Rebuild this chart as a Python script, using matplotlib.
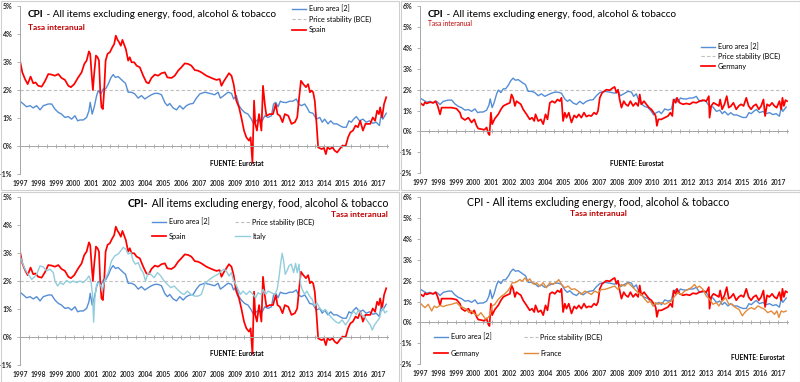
import numpy as np
import matplotlib
matplotlib.use('Agg')
import matplotlib.pyplot as plt
from matplotlib.patches import Rectangle

plt.rcParams['font.family'] = ['Lato', 'DejaVu Sans']

# ---- datos (tasa interanual, %) ----
euro_t = [1997.00, 1997.19, 1997.37, 1997.56, 1997.74, 1997.93, 1998.12, 1998.30, 1998.58, 1998.77,
          1998.95, 1999.14, 1999.32, 1999.51, 1999.70, 1999.88, 2000.07, 2000.22, 2000.35, 2000.53,
          2000.72, 2000.85, 2000.92, 2001.03, 2001.14, 2001.28, 2001.37, 2001.52, 2001.65, 2001.78,
          2001.93, 2002.07, 2002.20, 2002.33, 2002.48, 2002.63, 2002.76, 2002.89, 2003.04, 2003.23,
          2003.41, 2003.60, 2003.78, 2003.97, 2004.16, 2004.34, 2004.53, 2004.71, 2004.90, 2005.09,
          2005.23, 2005.36, 2005.55, 2005.74, 2005.92, 2006.11, 2006.29, 2006.48, 2006.67, 2006.85,
          2007.04, 2007.32, 2007.59, 2007.87, 2008.06, 2008.19, 2008.38, 2008.62, 2008.81, 2008.93,
          2009.08, 2009.23, 2009.36, 2009.54, 2009.73, 2009.92, 2010.05, 2010.20, 2010.35, 2010.48,
          2010.67, 2010.85, 2011.04, 2011.16, 2011.28, 2011.41, 2011.54, 2011.69, 2011.87, 2012.06,
          2012.24, 2012.43, 2012.56, 2012.71, 2012.90, 2013.02, 2013.17, 2013.36, 2013.55, 2013.74,
          2013.88, 2014.01, 2014.20, 2014.35, 2014.51, 2014.70, 2014.85, 2015.03, 2015.22, 2015.37,
          2015.50, 2015.63, 2015.78, 2015.96, 2016.15, 2016.33, 2016.52, 2016.70, 2016.89, 2017.07,
          2017.17, 2017.26, 2017.45]
euro_v = [1.60, 1.50, 1.40, 1.44, 1.36, 1.44, 1.29, 1.44, 1.50, 1.50,
          1.32, 1.20, 1.14, 1.02, 1.05, 0.96, 1.08, 0.90, 0.93, 0.93,
          1.02, 1.26, 1.56, 1.14, 1.38, 1.80, 1.98, 1.86, 2.04, 2.04,
          2.21, 2.43, 2.55, 2.45, 2.48, 2.39, 2.31, 2.24, 1.92, 1.92,
          1.86, 1.71, 1.80, 1.68, 1.76, 1.83, 1.88, 1.88, 1.83, 1.55,
          1.44, 1.52, 1.36, 1.29, 1.44, 1.32, 1.44, 1.50, 1.52, 1.71,
          1.86, 1.92, 1.88, 1.83, 1.92, 1.71, 1.80, 1.92, 1.88, 1.68,
          1.80, 1.44, 1.32, 1.20, 1.14, 0.96, 0.79, 0.90, 0.96, 0.85,
          1.08, 1.02, 1.08, 1.50, 1.56, 1.40, 1.60, 1.56, 1.55, 1.60,
          1.60, 1.68, 1.50, 1.44, 1.50, 1.38, 1.20, 1.17, 0.96, 1.02,
          0.85, 0.96, 0.79, 0.90, 0.79, 0.79, 0.73, 0.67, 0.67, 0.90,
          0.85, 0.96, 1.05, 0.90, 0.96, 0.85, 0.90, 0.81, 0.85, 0.73,
          1.14, 0.96, 1.17]

spain_t = [1997.00, 1997.13, 1997.28, 1997.43, 1997.59, 1997.74, 1997.87, 1998.02, 1998.21, 1998.39,
           1998.58, 1998.77, 1998.95, 1999.14, 1999.32, 1999.51, 1999.70, 1999.84, 2000.03, 2000.25,
           2000.44, 2000.59, 2000.72, 2000.85, 2000.92, 2001.00, 2001.07, 2001.14, 2001.24, 2001.33,
           2001.41, 2001.48, 2001.55, 2001.63, 2001.70, 2001.78, 2001.89, 2002.02, 2002.15, 2002.26,
           2002.35, 2002.45, 2002.54, 2002.63, 2002.72, 2002.82, 2002.91, 2003.04, 2003.13, 2003.23,
           2003.38, 2003.51, 2003.69, 2003.88, 2004.06, 2004.19, 2004.34, 2004.53, 2004.71, 2004.90,
           2005.09, 2005.23, 2005.46, 2005.64, 2005.83, 2006.01, 2006.20, 2006.39, 2006.57, 2006.76,
           2006.94, 2007.13, 2007.41, 2007.69, 2007.97, 2008.15, 2008.25, 2008.38, 2008.52, 2008.67,
           2008.81, 2008.93, 2009.08, 2009.23, 2009.36, 2009.51, 2009.64, 2009.79, 2009.88, 2009.98,
           2010.07, 2010.14, 2010.23, 2010.35, 2010.48, 2010.57, 2010.67, 2010.76, 2010.95, 2011.13,
           2011.28, 2011.38, 2011.51, 2011.66, 2011.79, 2011.98, 2012.16, 2012.35, 2012.48, 2012.59,
           2012.69, 2012.82, 2012.97, 2013.09, 2013.19, 2013.28, 2013.37, 2013.46, 2013.56, 2013.65,
           2013.84, 2013.97, 2014.08, 2014.17, 2014.30, 2014.45, 2014.58, 2014.71, 2014.85, 2015.00,
           2015.19, 2015.32, 2015.45, 2015.59, 2015.74, 2015.87, 2016.00, 2016.15, 2016.29, 2016.42,
           2016.56, 2016.70, 2016.83, 2016.94, 2017.04, 2017.11, 2017.22, 2017.33, 2017.45]
spain_v = [3.05, 2.63, 2.39, 2.21, 2.48, 2.24, 2.27, 2.15, 2.12, 2.31,
           2.57, 2.55, 2.51, 2.57, 2.43, 2.36, 2.15, 2.10, 2.21, 2.45,
           2.63, 2.93, 3.05, 3.38, 3.29, 2.57, 2.00, 2.57, 3.23, 3.17,
           3.05, 1.98, 1.38, 1.32, 1.98, 3.05, 3.29, 3.35, 3.52, 3.64,
           3.94, 3.79, 3.70, 3.58, 3.79, 3.62, 3.46, 3.05, 3.17, 2.99,
           2.99, 2.87, 2.81, 2.51, 2.27, 2.24, 2.43, 2.55, 2.51, 2.60,
           2.63, 2.45, 2.43, 2.51, 2.69, 2.81, 2.95, 2.93, 2.87, 2.71,
           2.69, 2.63, 2.51, 2.43, 2.36, 2.39, 2.15, 2.31, 2.45, 2.60,
           2.51, 2.21, 1.62, 1.38, 1.02, 0.55, 0.31, 0.19, 0.31, -0.60,
           1.62, 0.79, 0.55, 1.14, 0.55, 2.15, 1.50, 1.08, 1.14, 1.14,
           1.50, 1.14, 1.08, 0.85, 1.14, 1.08, 0.79, 0.85, 1.02, 1.74,
           2.33, 2.21, 2.10, 2.21, 1.92, 1.98, 1.92, 1.62, 0.79, -0.05,
           -0.11, -0.07, -0.29, -0.05, -0.11, -0.05, -0.17, -0.23, -0.11, 0.01,
           0.01, 0.31, 0.49, 0.55, 0.73, 0.67, 0.90, 0.55, 0.79, 0.79,
           0.79, 1.02, 0.90, 1.26, 1.14, 1.38, 1.02, 1.50, 1.74]

germany_t = [1997.00, 1997.19, 1997.28, 1997.37, 1997.56, 1997.74, 1997.87, 1997.99, 1998.12, 1998.21,
             1998.49, 1998.77, 1999.04, 1999.23, 1999.32, 1999.51, 1999.70, 1999.88, 2000.03, 2000.16,
             2000.25, 2000.44, 2000.59, 2000.72, 2000.81, 2000.88, 2000.96, 2001.03, 2001.18, 2001.37,
             2001.52, 2001.65, 2001.83, 2002.02, 2002.11, 2002.20, 2002.30, 2002.39, 2002.52, 2002.63,
             2002.76, 2002.95, 2003.13, 2003.26, 2003.38, 2003.45, 2003.60, 2003.75, 2003.88, 2004.01,
             2004.12, 2004.25, 2004.38, 2004.53, 2004.68, 2004.81, 2004.90, 2004.99, 2005.09, 2005.18,
             2005.31, 2005.46, 2005.61, 2005.74, 2005.87, 2006.01, 2006.16, 2006.29, 2006.42, 2006.57,
             2006.72, 2006.85, 2006.94, 2007.04, 2007.17, 2007.41, 2007.59, 2007.78, 2007.87, 2007.97,
             2008.06, 2008.15, 2008.25, 2008.38, 2008.49, 2008.62, 2008.75, 2008.90, 2009.05, 2009.18,
             2009.27, 2009.36, 2009.51, 2009.64, 2009.79, 2009.92, 2010.05, 2010.16, 2010.23, 2010.31,
             2010.48, 2010.67, 2010.85, 2010.98, 2011.09, 2011.16, 2011.28, 2011.35, 2011.50, 2011.69,
             2011.87, 2012.06, 2012.24, 2012.43, 2012.61, 2012.80, 2012.99, 2013.13, 2013.17, 2013.26,
             2013.39, 2013.54, 2013.69, 2013.76, 2013.87, 2014.00, 2014.13, 2014.24, 2014.37, 2014.50,
             2014.66, 2014.80, 2014.93, 2015.07, 2015.22, 2015.35, 2015.49, 2015.62, 2015.77, 2015.92,
             2016.05, 2016.18, 2016.27, 2016.38, 2016.51, 2016.66, 2016.79, 2016.92, 2017.07, 2017.17,
             2017.24, 2017.32, 2017.41, 2017.50]
germany_v = [1.37, 1.25, 1.40, 1.34, 1.40, 1.37, 1.45, 1.22, 0.82, 1.14,
             1.14, 1.14, 1.09, 0.90, 0.66, 0.55, 0.66, 0.43, 0.58, 0.27,
             0.14, 0.11, 0.08, 0.19, -0.08, -0.17, 0.90, 0.35, 0.62, 0.82,
             1.06, 1.22, 1.30, 1.37, 1.77, 1.61, 1.22, 1.45, 1.37, 1.30,
             1.06, 0.82, 0.58, 0.66, 0.50, 0.82, 0.50, 0.58, 0.35, 0.82,
             0.58, 1.37, 1.45, 1.37, 1.53, 1.45, 1.61, 0.50, 0.90, 0.66,
             0.90, 0.43, 0.77, 0.66, 0.82, 0.66, 0.90, 0.71, 0.77, 0.74,
             0.90, 0.82, 0.98, 1.61, 1.85, 2.00, 1.97, 2.09, 2.13, 1.85,
             2.00, 1.53, 1.14, 1.45, 1.30, 1.22, 1.45, 1.22, 1.37, 1.22,
             1.77, 1.30, 1.45, 1.30, 1.14, 1.06, 0.90, 0.74, 0.27, 0.58,
             0.58, 0.66, 0.74, 0.90, 0.74, 1.53, 1.37, 1.61, 1.37, 1.30,
             1.34, 1.30, 1.40, 1.37, 1.45, 1.50, 1.45, 1.69, 0.66, 1.22,
             1.37, 1.30, 1.22, 1.53, 1.06, 1.30, 1.69, 1.14, 1.22, 1.37,
             1.06, 1.22, 1.30, 1.22, 1.61, 1.22, 1.06, 1.22, 1.30, 1.06,
             1.22, 1.53, 0.74, 1.30, 1.22, 1.37, 1.22, 1.14, 1.45, 1.06,
             1.61, 1.22, 1.50, 1.45]

italy_t = [1997.00, 1997.13, 1997.28, 1997.46, 1997.65, 1997.80, 1997.93, 1998.12, 1998.30, 1998.49,
           1998.67, 1998.86, 1998.95, 1999.10, 1999.23, 1999.42, 1999.60, 1999.79, 1999.97, 2000.16,
           2000.35, 2000.53, 2000.72, 2000.85, 2000.96, 2001.05, 2001.11, 2001.18, 2001.28, 2001.41,
           2001.52, 2001.59, 2001.74, 2001.93, 2002.11, 2002.30, 2002.48, 2002.63, 2002.76, 2002.91,
           2003.04, 2003.19, 2003.32, 2003.45, 2003.60, 2003.75, 2003.88, 2004.01, 2004.16, 2004.30,
           2004.49, 2004.68, 2004.86, 2005.05, 2005.23, 2005.42, 2005.61, 2005.79, 2005.98, 2006.16,
           2006.35, 2006.54, 2006.76, 2006.94, 2007.13, 2007.32, 2007.59, 2007.87, 2008.06, 2008.25,
           2008.38, 2008.52, 2008.67, 2008.81, 2008.90, 2009.05, 2009.18, 2009.31, 2009.45, 2009.64,
           2009.83, 2010.01, 2010.16, 2010.29, 2010.48, 2010.57, 2010.72, 2010.85, 2011.04, 2011.23,
           2011.36, 2011.46, 2011.55, 2011.64, 2011.72, 2011.81, 2011.91, 2012.02, 2012.15, 2012.28,
           2012.39, 2012.48, 2012.58, 2012.67, 2012.76, 2012.89, 2013.02, 2013.17, 2013.32, 2013.45,
           2013.58, 2013.73, 2013.91, 2014.06, 2014.25, 2014.43, 2014.62, 2014.80, 2014.99, 2015.18,
           2015.37, 2015.50, 2015.63, 2015.78, 2015.92, 2016.05, 2016.24, 2016.42, 2016.56, 2016.67,
           2016.80, 2016.93, 2017.07, 2017.17, 2017.26, 2017.37, 2017.48]
italy_v = [2.90, 2.66, 2.42, 2.24, 2.06, 2.14, 2.24, 2.54, 2.50, 2.36,
           2.42, 2.30, 2.00, 1.82, 1.94, 1.88, 2.02, 1.94, 2.00, 1.94,
           2.00, 1.94, 2.06, 2.18, 2.00, 1.52, 0.53, 1.40, 1.88, 1.94,
           1.82, 1.64, 2.06, 2.30, 2.72, 2.90, 2.96, 3.08, 3.20, 3.14,
           2.96, 3.02, 2.72, 2.60, 2.66, 2.42, 2.30, 2.00, 2.30, 2.24,
           2.12, 2.30, 2.18, 2.00, 1.88, 1.76, 1.82, 1.70, 1.58, 1.52,
           1.64, 1.52, 1.46, 1.46, 1.52, 1.90, 2.06, 2.18, 2.24, 2.36,
           2.42, 2.36, 2.18, 2.30, 2.06, 1.88, 1.70, 1.52, 1.64, 1.52,
           1.64, 1.52, 1.40, 1.58, 1.52, 1.70, 1.52, 1.64, 1.58, 1.52,
           1.70, 2.12, 2.60, 2.99, 2.72, 2.24, 2.36, 2.54, 2.60, 2.30,
           2.63, 2.30, 2.60, 1.88, 1.70, 1.52, 1.64, 1.46, 1.34, 1.10,
           1.22, 1.04, 0.92, 0.98, 0.80, 0.67, 0.55, 0.49, 0.61, 0.43,
           0.61, 0.80, 0.92, 0.80, 0.98, 0.80, 0.73, 0.55, 0.43, 0.25,
           0.43, 0.55, 0.67, 0.92, 1.04, 0.86, 0.92]

france_t = [1997.00, 1997.13, 1997.28, 1997.46, 1997.65, 1997.80, 1997.93, 1998.12, 1998.30, 1998.49,
            1998.77, 1999.04, 1999.23, 1999.42, 1999.60, 1999.73, 1999.88, 2000.07, 2000.25, 2000.40,
            2000.53, 2000.66, 2000.81, 2000.92, 2001.03, 2001.18, 2001.37, 2001.55, 2001.70, 2001.89,
            2002.02, 2002.15, 2002.30, 2002.45, 2002.58, 2002.71, 2002.86, 2003.00, 2003.13, 2003.26,
            2003.38, 2003.51, 2003.69, 2003.88, 2004.06, 2004.25, 2004.43, 2004.62, 2004.75, 2004.90,
            2005.09, 2005.27, 2005.46, 2005.64, 2005.83, 2006.01, 2006.20, 2006.39, 2006.57, 2006.76,
            2006.94, 2007.13, 2007.32, 2007.59, 2007.87, 2008.06, 2008.25, 2008.43, 2008.62, 2008.81,
            2009.00, 2009.18, 2009.36, 2009.55, 2009.73, 2009.86, 2010.01, 2010.16, 2010.29, 2010.48,
            2010.67, 2010.85, 2011.04, 2011.23, 2011.41, 2011.59, 2011.78, 2011.96, 2012.15, 2012.33,
            2012.46, 2012.61, 2012.80, 2012.99, 2013.17, 2013.36, 2013.55, 2013.69, 2013.88, 2014.07,
            2014.25, 2014.44, 2014.62, 2014.81, 2015.00, 2015.13, 2015.32, 2015.50, 2015.68, 2015.87,
            2016.05, 2016.24, 2016.42, 2016.61, 2016.80, 2016.93, 2017.04, 2017.17, 2017.30, 2017.45]
france_v = [0.95, 0.82, 0.71, 0.87, 0.55, 0.79, 0.71, 0.82, 0.76, 0.82,
            0.87, 0.95, 0.79, 0.71, 0.63, 0.47, 0.55, 0.39, 0.32, 0.47,
            0.32, 0.16, 0.24, 0.39, 0.79, 0.87, 1.11, 1.26, 1.34, 1.50,
            1.66, 1.90, 1.90, 1.97, 2.05, 1.97, 2.13, 1.97, 2.09, 1.90,
            1.82, 1.90, 1.74, 1.90, 1.66, 1.90, 1.82, 1.93, 2.05, 1.82,
            1.66, 1.74, 1.58, 1.61, 1.50, 1.34, 1.50, 1.42, 1.34, 1.50,
            1.42, 1.58, 1.58, 1.66, 1.74, 1.58, 1.82, 1.74, 1.90, 1.74,
            1.58, 1.42, 1.34, 1.11, 0.95, 1.03, 0.79, 0.95, 0.87, 0.95,
            0.87, 0.95, 1.03, 1.26, 1.42, 1.34, 1.50, 1.58, 1.66, 1.82,
            1.66, 1.74, 1.58, 1.26, 1.11, 0.87, 0.95, 0.79, 1.03, 1.18,
            0.87, 0.87, 0.71, 0.63, 0.32, 0.47, 0.63, 0.71, 0.63, 0.79,
            0.71, 0.63, 0.47, 0.55, 0.39, 0.55, 0.24, 0.55, 0.50, 0.55]

years = list(range(1997, 2018))

# colores
C_EURO = '#558ED5'
C_RED = '#FF0000'
C_ITA = '#92CDDC'
C_FRA = '#E38B3B'
C_BCE = '#BFBFBF'
C_TASA = '#C00000'
C_AXIS = '#A6A6A6'

W, H = 800, 382
fig = plt.figure(figsize=(8, 3.82), dpi=100)
fig.patch.set_facecolor('white')


def fx(x):
    return x / W


def fy(y):
    return 1 - y / H


def make_axes(x0, y0, x1, y1, ymin, ymax):
    ax = fig.add_axes([fx(x0), fy(y1), (x1 - x0) / W, (y1 - y0) / H])
    ax.set_xlim(1997, 2017.55)
    ax.set_ylim(ymin, ymax)
    for s in ['top', 'right']:
        ax.spines[s].set_visible(False)
    ax.spines['bottom'].set_position(('data', 0))
    ax.spines['bottom'].set_color(C_AXIS)
    ax.spines['left'].set_color(C_AXIS)
    ax.spines['bottom'].set_linewidth(0.7)
    ax.spines['left'].set_linewidth(0.7)
    ax.set_xticks(np.arange(1997, 2017.6, 0.5))
    ax.tick_params(axis='x', direction='inout', length=3, width=0.6, color=C_AXIS,
                   labelbottom=False)
    ax.set_yticks(range(ymin, ymax + 1))
    ax.set_yticklabels([f'{v}%' for v in range(ymin, ymax + 1)], fontsize=5,
                       fontweight='bold', color='#262626')
    ax.tick_params(axis='y', length=2, width=0.6, color=C_AXIS, pad=3.5)
    sec = ax.secondary_xaxis(0)
    sec.set_xticks(years)
    sec.set_xticklabels([str(y) for y in years], fontsize=4.8, fontweight='bold',
                        color='#262626')
    sec.tick_params(length=0, pad=4)
    sec.spines['bottom'].set_visible(False)
    ax.axhline(2, color=C_BCE, lw=0.8, ls=(0, (3, 2)), label='Price stability (BCE)', zorder=1)
    return ax


def panel_frame(x0, y0, x1, y1):
    fig.add_artist(Rectangle((fx(x0), fy(y1)), (x1 - x0) / W, (y1 - y0) / H,
                             transform=fig.transFigure, fill=False,
                             edgecolor='#D0D0D0', lw=0.8))


for (a, b, c, d) in [(0.5, 0.5, 399, 190), (401, 0.5, 799.5, 190),
                     (0.5, 192, 399, 381.5), (401, 192, 799.5, 381.5)]:
    panel_frame(a, b, c, d)

title = 'All items excluding energy, food, alcohol & tobacco'
LW_RED = 1.25
LW_BLUE = 1.0

# ---- panel 1: Euro area vs Spain ----
ax1 = make_axes(20, 6, 388, 174, -1, 5)
l_eu, = ax1.plot(euro_t, euro_v, color=C_EURO, lw=LW_BLUE, label='Euro area [2]')
l_es, = ax1.plot(spain_t, spain_v, color=C_RED, lw=LW_RED, label='Spain')
h_bce = ax1.get_lines()[0]
t = fig.text(fx(28), fy(19), 'CPI', fontsize=7.2, fontweight='bold', va='bottom')
ax1.annotate(' - ' + title, xy=(1, 0), xycoords=t, va='bottom', ha='left', fontsize=7.2)
fig.text(fx(28), fy(27), 'Tasa interanual', fontsize=6, fontweight='bold', color=C_TASA,
         va='center')
ax1.legend([l_eu, h_bce, l_es], ['Euro area [2]', 'Price stability (BCE)', 'Spain'],
           loc='upper left', bbox_to_anchor=(fx(292), fy(5)), bbox_transform=fig.transFigure,
           frameon=False, fontsize=5.2, handlelength=2.0, handletextpad=0.3,
           labelspacing=0.45, borderpad=0, borderaxespad=0)
fig.text(fx(237), fy(163), 'FUENTE: Eurostat', fontsize=4.8, fontweight='bold',
         ha='center', va='center')

# ---- panel 2: Euro area vs Germany ----
ax2 = make_axes(420, 6, 788, 173.3, -2, 6)
l_eu2, = ax2.plot(euro_t, euro_v, color=C_EURO, lw=LW_BLUE, label='Euro area [2]')
l_de, = ax2.plot(germany_t, germany_v, color=C_RED, lw=LW_RED, label='Germany')
h_bce2 = ax2.get_lines()[0]
t = fig.text(fx(428), fy(19), 'CPI', fontsize=7.2, fontweight='bold', va='bottom')
ax2.annotate(' - ' + title, xy=(1, 0), xycoords=t, va='bottom', ha='left', fontsize=7.2)
fig.text(fx(428), fy(24), 'Tasa interanual', fontsize=4.8, color=C_TASA, va='center')
ax2.legend([l_eu2, h_bce2, l_de], ['Euro area [2]', 'Price stability (BCE)', 'Germany'],
           loc='upper left', bbox_to_anchor=(fx(701), fy(43)), bbox_transform=fig.transFigure,
           frameon=False, fontsize=5.2, handlelength=2.0, handletextpad=0.3,
           labelspacing=0.35, borderpad=0, borderaxespad=0)
fig.text(fx(637), fy(163), 'FUENTE: Eurostat', fontsize=4.8, fontweight='bold',
         ha='center', va='center')

# ---- panel 3: Euro area, Spain, Italy ----
ax3 = make_axes(20, 197, 388, 365, -1, 5)
l_eu3, = ax3.plot(euro_t, euro_v, color=C_EURO, lw=LW_BLUE, label='Euro area [2]')
l_es3, = ax3.plot(spain_t, spain_v, color=C_RED, lw=LW_RED, label='Spain')
l_it, = ax3.plot(italy_t, italy_v, color=C_ITA, lw=LW_BLUE, label='Italy')
h_bce3 = ax3.get_lines()[0]
t = fig.text(fx(388), fy(209), ' ' + title, fontsize=7.6, ha='right', va='bottom')
ax3.annotate('CPI-', xy=(0, 0), xycoords=t, va='bottom', ha='right', fontsize=7.6,
             fontweight='bold')
fig.text(fx(388), fy(215), 'Tasa interanual', fontsize=6, fontweight='bold', color=C_TASA,
         ha='right', va='center')
ax3.legend([l_eu3, l_es3, h_bce3, l_it], ['Euro area [2]', 'Spain', 'Price stability (BCE)', 'Italy'],
           ncol=2, loc='upper left', bbox_to_anchor=(fx(152), fy(218)),
           bbox_transform=fig.transFigure, frameon=False, fontsize=5.2, handlelength=2.0,
           handletextpad=0.3, labelspacing=1.0, columnspacing=3.6, borderpad=0,
           borderaxespad=0)
fig.text(fx(237), fy(354), 'FUENTE: Eurostat', fontsize=4.8, fontweight='bold',
         ha='center', va='center')

# ---- panel 4: Euro area, Germany, France ----
ax4 = make_axes(420, 197, 788, 364.3, -2, 6)
l_eu4, = ax4.plot(euro_t, euro_v, color=C_EURO, lw=LW_BLUE, label='Euro area [2]')
l_de4, = ax4.plot(germany_t, germany_v, color=C_RED, lw=LW_RED, label='Germany')
l_fr, = ax4.plot(france_t, france_v, color=C_FRA, lw=LW_BLUE, label='France')
h_bce4 = ax4.get_lines()[0]
fig.text(fx(598), fy(203), 'CPI - ' + title, fontsize=7.6, ha='center', va='center')
fig.text(fx(598), fy(214), 'Tasa interanual', fontsize=6, fontweight='bold', color=C_TASA,
         ha='center', va='center')
ax4.legend([l_eu4, l_de4, h_bce4, l_fr], ['Euro area [2]', 'Germany', 'Price stability (BCE)', 'France'],
           ncol=2, loc='upper left', bbox_to_anchor=(fx(434), fy(333)),
           bbox_transform=fig.transFigure, frameon=False, fontsize=5.2, handlelength=2.0,
           handletextpad=0.3, labelspacing=1.3, columnspacing=4.5, borderpad=0,
           borderaxespad=0)
fig.text(fx(758), fy(357), 'FUENTE: Eurostat', fontsize=4.8, fontweight='bold',
         ha='center', va='center')

fig.savefig('out.png', dpi=100, facecolor='white')
